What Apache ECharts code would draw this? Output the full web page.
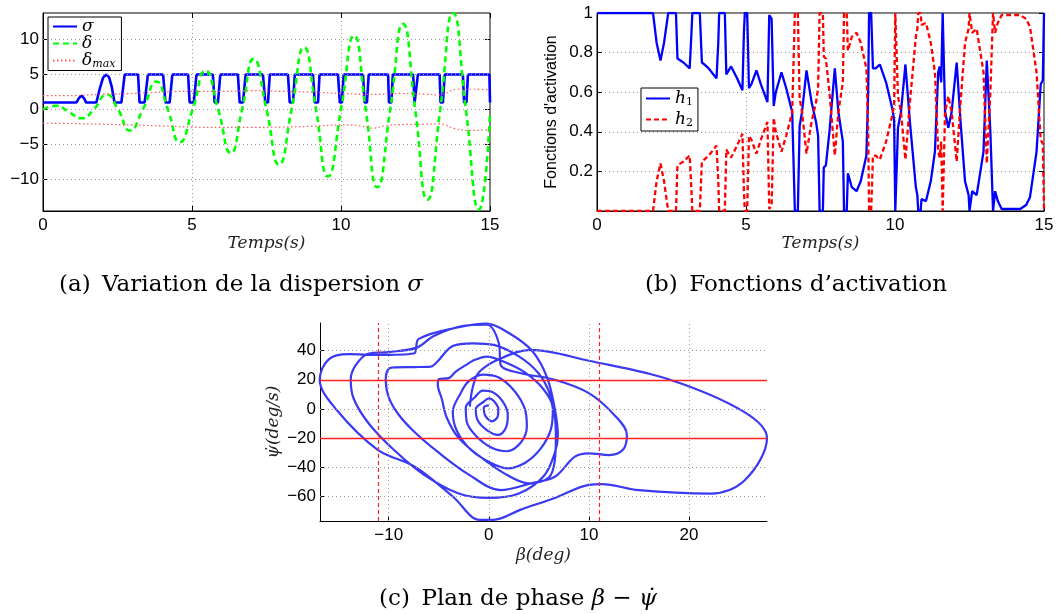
<!DOCTYPE html>
<html><head><meta charset="utf-8">
<script src="https://cdn.jsdelivr.net/npm/echarts@6/dist/echarts.min.js"></script>
<style>html,body{margin:0;padding:0;background:#fff}#c{width:1062px;height:614px}</style>
</head><body><div id="c"></div>
<script>
// ---------- (a) Variation de la dispersion ----------
const timeTicks = [0, 5, 10, 15];
const aYTicks = [-10, -5, 0, 5, 10];
const sigma = [[0,1],[1.12,1],[1.2,1.6],[1.29,2],[1.38,1.6],[1.45,1],[1.79,1],[1.92,3.2],[2.02,4.6],[2.13,5],[2.22,4.6],[2.31,3.2],[2.40,1],[2.63,1],[2.74,5],[3.19,5],[3.24,1],[3.41,1],[3.52,5],[4.03,5],[4.11,1],[4.25,1],[4.34,5],[4.87,5],[4.92,1],[5.06,1],[5.15,5],[5.70,5],[5.76,1],[5.87,1],[5.95,5],[6.54,5],[6.60,1],[6.71,1],[6.80,5],[7.38,5],[7.46,1],[7.55,1],[7.61,5],[8.22,5],[8.28,1],[8.39,1],[8.45,5],[9.06,5],[9.12,1],[9.23,1],[9.28,5],[9.90,5],[9.96,1],[10.03,1],[10.09,5],[10.74,5],[10.79,1],[10.87,1],[10.93,5],[11.58,5],[11.61,1],[11.69,1],[11.74,5],[12.42,5],[12.47,1],[12.53,1],[12.58,5],[13.31,5],[13.34,1],[13.42,1],[13.48,5],[14.09,5],[14.13,1],[14.21,1],[14.26,5],[14.98,5],[15,1]];
const delta = [[0,0],[0.45,0.55],[0.85,-0.3],[1.3,-1.25],[1.7,0],[2.13,2.15],[2.52,0],[2.91,-3.0],[3.35,0],[3.8,4.0],[4.19,0],[4.59,-4.67],[5.02,0],[5.45,5.57],[5.88,0],[6.3,-6.2],[6.68,0],[7.07,7.24],[7.5,0],[7.92,-7.86],[8.34,0],[8.76,8.9],[9.16,0],[9.56,-9.57],[10.0,0],[10.44,10.57],[10.83,0],[11.22,-11.1],[11.65,0],[12.08,12.24],[12.49,0],[12.9,-12.9],[13.33,0],[13.76,13.8],[14.19,0],[14.63,-14.3],[15,-0.5]];
const deltaMaxUp = [[0,2.0],[1,2.0],[2,2.2],[3,2.3],[4,2.5],[5,2.6],[6,2.6],[7,2.7],[8,2.6],[9,2.5],[10,2.3],[11,2.15],[12,2.3],[12.8,2.2],[13.3,2.1],[13.9,2.9],[14.5,2.9],[15,2.8]];
const deltaMaxLow = [[0,-1.95],[1,-2.0],[2,-2.1],[3,-2.2],[4,-2.35],[5,-2.5],[6,-2.55],[7,-2.55],[8,-2.5],[9,-2.4],[10,-2.2],[10.6,-2.3],[11.1,-2.65],[11.5,-2.3],[12,-2.15],[12.8,-2.1],[13.3,-2.05],[13.8,-2.7],[14.3,-3.0],[15,-2.85]];

// ---------- (b) Fonctions d'activation ----------
const hYTicks = [0, 0.2, 0.4, 0.6, 0.8, 1];
const hTime = [0,1.88,2.0,2.13,2.25,2.39,2.65,2.70,2.9,3.11,3.17,3.2,3.45,3.52,3.6,3.75,4.01,4.07,4.1,4.29,4.34,4.5,4.7,4.88,4.93,4.96,5.04,5.1,5.18,5.35,5.5,5.72,5.78,5.86,5.93,6.0,6.19,6.35,6.55,6.64,6.74,6.8,6.88,7.03,7.2,7.35,7.42,7.47,7.58,7.61,7.68,7.8,7.98,8.1,8.25,8.29,8.38,8.42,8.55,8.71,8.85,9.04,9.1,9.13,9.2,9.26,9.35,9.49,9.7,9.92,9.97,10.01,10.06,10.1,10.2,10.35,10.5,10.7,10.75,10.78,10.86,10.89,11.04,11.2,11.34,11.45,11.5,11.55,11.6,11.63,11.68,11.79,11.9,12.07,12.2,12.35,12.47,12.5,12.56,12.59,12.74,12.97,13.08,13.2,13.29,13.33,13.36,13.45,13.58,14.2,14.4,14.53,14.75,14.89,14.96,15];
const h1 = [1,1,0.85,0.76,0.85,1,1,0.77,0.75,0.72,0.9,1,1,0.75,0.74,0.72,0.67,0.85,1,1,0.69,0.73,0.67,0.61,0.9,1,1,0.62,0.64,0.71,0.64,0.55,0.99,0.97,0.53,0.6,0.7,0.62,0.5,0,0,0.43,0.5,0.71,0.55,0.45,0.38,0,0,0.22,0.23,0.4,0.72,0.5,0.35,0,0,0.19,0.12,0.1,0.15,0.28,0.6,1,1,0.72,0.72,0.74,0.65,0.51,0.46,0,0,0.42,0.5,0.74,0.45,0.12,0.08,0,0,0.06,0.05,0.15,0.3,0.7,0.73,0.65,1,1,0.5,0.42,0.5,0.75,0.45,0.15,0.08,0,0,0.1,0.08,0.3,0.76,0.4,0,0,0.1,0.05,0.01,0.01,0.03,0.07,0.3,0.64,0.66,1];
const h2 = [0,0,0.15,0.24,0.15,0,0,0.23,0.25,0.28,0.1,0,0,0.25,0.26,0.28,0.33,0.15,0,0,0.31,0.27,0.33,0.39,0.1,0,0,0.38,0.36,0.29,0.36,0.45,0.01,0.03,0.47,0.4,0.3,0.38,0.5,1,1,0.57,0.5,0.29,0.45,0.55,0.62,1,1,0.78,0.77,0.6,0.28,0.5,0.65,1,1,0.81,0.88,0.9,0.85,0.72,0.4,0,0,0.28,0.28,0.26,0.35,0.49,0.54,1,1,0.58,0.5,0.26,0.55,0.88,0.92,1,1,0.94,0.95,0.85,0.7,0.3,0.27,0.35,0,0,0.5,0.58,0.5,0.25,0.55,0.85,0.92,1,1,0.9,0.92,0.7,0.24,0.6,1,1,0.9,0.95,0.99,0.99,0.97,0.93,0.7,0.36,0.34,0];

// ---------- (c) Plan de phase ----------
const betaTicks = [-10, 0, 10, 20];
const psiTicks = [-60, -40, -20, 0, 20, 40];
const psiBounds = [-20, 20];
const betaBounds = [-11, 11];
const phase = [[0.0,2.5],[-0.5,1],[-0.4,-4],[0.3,-8.5],[0.9,-5],[0.95,0],[0.5,5.5],[0.0,7.3],[-0.5,5],
[-1.3,0],[-1.1,-8],[-0.2,-14.5],[0.9,-17.8],[1.7,-13],[1.9,-4],[1.4,5],[0.4,11.5],[-0.6,12.5],[-1.4,8],
[-2.3,1],[-2.2,-9],[-1.2,-19],[0.4,-27],[1.8,-29],[3.2,-23],[3.8,-12],[3.6,0],[2.6,12],[1.0,21.5],[-0.6,23.5],[-2.0,19],[-2.8,11],
[-3.6,-2],[-3.2,-15],[-1.8,-28],[0.2,-37],[1.8,-40.7],[3.6,-37],[5.2,-27],[6.2,-14],[6.4,0],[5.4,14],[3.6,25],[1.8,31.5],[-0.2,35.9],[-1.6,33],[-2.3,30],[-3.3,25.6],[-4.0,21.1],[-5.0,20.4],[-5.1,16.5],
[-4.7,7],[-4.2,-6],[-3.0,-20],[-1.0,-32],[1.5,-44],[4.0,-51],[6.0,-47],[6.6,-35],[6.7,-20],[6.6,-5],[6.0,12],[4.9,25],[3.0,36],[0.5,43.9],[-1.6,45],[-3.6,43.2],[-5.2,32],[-5.8,29],[-7.5,28.7],[-9.3,28.5],[-10,27.5],[-10.3,20],
[-10,8],[-9,-4],[-7.4,-16],[-5,-30],[-2,-45],[1.2,-55.6],[4.2,-51],[6.6,-46.5],[8.6,-32.7],[10,-30.4],[12,-31.6],[13.4,-28],[13.8,-17.8],[12.7,-5.3],[10,10.8],[6.6,20],[3.2,24.5],[1.2,30],[1.0,45],[-0.2,57.7],[-2.5,57],[-5.5,50],[-7.2,42],[-10,39],[-12,38],[-13.3,30],[-13.8,20],
[-13.5,7],[-12,-10],[-9.5,-28],[-6.5,-45],[-3,-58],[0,-61],[3,-58],[5.5,-46],[6.6,-30],[6.9,-18],[6.6,0],[5.8,22],[4.3,40],[2,52],[-0.2,58.5],[-3,56],[-7,48],[-7.5,38],[-11,37],[-14,37.5],[-16,34],[-16.9,20],
[-15.2,-0.7],[-11.1,-28],[-7.4,-39.6],[-3.6,-60],[-0.9,-76],[0.44,-76],[3.2,-69],[6.6,-61],[10,-52],[11.3,-51.5],[15,-55.7],[22.2,-58],[25.6,-48.7],[27.8,-20],[25.5,-2],[18.1,20],[10,33],[4.2,40.5],[1,34],[-1.0,25],[-1.6,15],[-1.9,1.6]];

const MINUS = '\u2212';
const fmt = v => String(v).replace('-', MINUS);
const tickFont = {fontFamily: 'Liberation Sans', fontSize: 17, color: '#000'};
const gridDot = {color: '#9a9a9a', width: 1, type: [1, 3]};
const serif = 'DejaVu Serif';
const nameFont = {fontFamily: serif, fontStyle: 'italic', fontSize: 17, color: '#222'};
const tickIn = {inside: true, length: 5, lineStyle: {color: '#000'}};

function gridLines(xs, ys, xi, yi) {
  const d = [];
  xs.forEach(v => d.push({xAxis: v}));
  ys.forEach(v => d.push({yAxis: v}));
  return {type: 'line', xAxisIndex: xi, yAxisIndex: yi, data: [], z: 1, silent: true,
    markLine: {silent: true, symbol: ['none', 'none'], label: {show: false}, lineStyle: gridDot, animation: false, data: d}};
}
function axisCommon(extra) {
  return Object.assign({
    axisLine: {onZero: false, lineStyle: {color: '#000', width: 1}},
    axisTick: tickIn
  }, extra);
}
function mirror(extra) {
  return Object.assign({type: 'value', axisLine: {show: false, onZero: false}, axisTick: tickIn,
    axisLabel: {show: false}, splitLine: {show: false}}, extra);
}

const chart = echarts.init(document.getElementById('c'), null, {renderer: 'canvas'});
const option = {
  animation: false,
  backgroundColor: '#fff',
  grid: [
    {left: 43, top: 13, width: 447, height: 198, show: true, borderColor: '#000', borderWidth: 1, containLabel: false},
    {left: 597, top: 13, width: 447, height: 198, show: true, borderColor: '#000', borderWidth: 1, containLabel: false},
    {left: 320, top: 323, width: 447, height: 198, containLabel: false}
  ],
  xAxis: [
    axisCommon({gridIndex: 0, type: 'value', min: timeTicks[0], max: timeTicks[3], interval: 5,
      axisLabel: Object.assign({margin: 6, formatter: fmt}, tickFont), splitLine: {show: true, lineStyle: gridDot},
      name: 'Temps(s)', nameLocation: 'middle', nameGap: 22, nameTextStyle: nameFont}),
    axisCommon({gridIndex: 1, type: 'value', min: timeTicks[0], max: timeTicks[3], interval: 5,
      axisLabel: Object.assign({margin: 6, formatter: fmt}, tickFont), splitLine: {show: true, lineStyle: gridDot},
      name: 'Temps(s)', nameLocation: 'middle', nameGap: 22, nameTextStyle: nameFont}),
    axisCommon({gridIndex: 2, type: 'value', min: -16.87, max: 27.8,
      axisTick: Object.assign({customValues: betaTicks}, tickIn),
      axisLabel: Object.assign({margin: 6, formatter: fmt, customValues: betaTicks}, tickFont), splitLine: {show: false},
      name: 'β(deg)', nameLocation: 'middle', nameGap: 26, nameTextStyle: nameFont}),
    mirror({gridIndex: 0, position: 'top', min: timeTicks[0], max: timeTicks[3], interval: 5}),
    mirror({gridIndex: 1, position: 'top', min: timeTicks[0], max: timeTicks[3], interval: 5})
  ],
  yAxis: [
    axisCommon({gridIndex: 0, type: 'value', min: -14.5, max: 13.8,
      axisTick: Object.assign({customValues: aYTicks}, tickIn),
      axisLabel: Object.assign({margin: 4, formatter: fmt, customValues: aYTicks}, tickFont), splitLine: {show: false}}),
    axisCommon({gridIndex: 1, type: 'value', min: hYTicks[0], max: hYTicks[5], interval: 0.2,
      axisLabel: Object.assign({margin: 4, showMinLabel: false, formatter: v => (v === 0 ? '' : String(+v.toFixed(1)))}, tickFont),
      splitLine: {show: true, lineStyle: gridDot},
      name: "Fonctions d'activation", nameLocation: 'middle', nameGap: 37,
      nameTextStyle: {fontFamily: 'Liberation Sans', fontSize: 16, color: '#000'}}),
    axisCommon({gridIndex: 2, type: 'value', min: -76.8, max: 58.9,
      axisTick: Object.assign({customValues: psiTicks}, tickIn),
      axisLabel: Object.assign({margin: 4, formatter: fmt, customValues: psiTicks}, tickFont), splitLine: {show: false},
      name: 'ψ\u0307(deg/s)', nameLocation: 'middle', nameGap: 38, nameTextStyle: nameFont}),
    mirror({gridIndex: 0, position: 'right', min: -14.5, max: 13.8, axisTick: Object.assign({customValues: aYTicks}, tickIn)}),
    mirror({gridIndex: 1, position: 'right', min: hYTicks[0], max: hYTicks[5], interval: 0.2})
  ],
  legend: [
    {data: ['σ', 'δ', 'δmax'], orient: 'vertical', left: 48, top: 17, itemWidth: 24, itemHeight: 11, itemGap: 0,
      padding: [1, 6, 1, 4], borderColor: '#000', borderWidth: 1, backgroundColor: '#fff', selectedMode: false,
      itemStyle: {opacity: 0},
      formatter: n => (n === 'δmax' ? '{m|δ}{s|max}' : '{m|' + n + '}'),
      textStyle: {rich: {m: {fontFamily: serif, fontStyle: 'italic', fontSize: 17, lineHeight: 14, color: '#000'},
                         s: {fontFamily: serif, fontStyle: 'italic', fontSize: 11, lineHeight: 18, verticalAlign: 'bottom', color: '#000'}}}},
    {data: ['h1', 'h2'], orient: 'vertical', left: 641, top: 88, itemWidth: 24, itemHeight: 12, itemGap: 3,
      padding: [2, 5, 2, 4], borderColor: '#000', borderWidth: 1, backgroundColor: '#fff', selectedMode: false,
      itemStyle: {opacity: 0},
      formatter: n => '{m|h}{s|' + n.slice(1) + '}',
      textStyle: {rich: {m: {fontFamily: serif, fontStyle: 'italic', fontSize: 17, lineHeight: 15, color: '#000'},
                         s: {fontFamily: serif, fontSize: 11, lineHeight: 19, verticalAlign: 'bottom', color: '#000'}}}}
  ],
  series: [
    gridLines([], aYTicks, 0, 0),
    {name: 'σ', type: 'line', xAxisIndex: 0, yAxisIndex: 0, data: sigma, symbol: 'none', z: 3,
      lineStyle: {color: '#0000ff', width: 2.6}, itemStyle: {color: '#0000ff'}},
    {name: 'δ', type: 'line', xAxisIndex: 0, yAxisIndex: 0, data: delta, symbol: 'none', smooth: 0.55, z: 3,
      lineStyle: {color: '#00ff00', width: 2.6, type: [6, 4]}, itemStyle: {color: '#00ff00'}},
    {name: 'δmax', type: 'line', xAxisIndex: 0, yAxisIndex: 0, data: deltaMaxUp, symbol: 'none', smooth: 0.4, z: 3,
      lineStyle: {color: '#ff5555', width: 1.2, type: [1.5, 2.5]}, itemStyle: {color: '#ff5555'}},
    {name: 'δmax', type: 'line', xAxisIndex: 0, yAxisIndex: 0, data: deltaMaxLow, symbol: 'none', smooth: 0.4, z: 3,
      lineStyle: {color: '#ff5555', width: 1.2, type: [1.5, 2.5]}, itemStyle: {color: '#ff5555'}},
    {name: 'h1', type: 'line', xAxisIndex: 1, yAxisIndex: 1, data: hTime.map((t, i) => [t, h1[i]]), symbol: 'none', z: 3,
      lineStyle: {color: '#0000ff', width: 2.3}, itemStyle: {color: '#0000ff'}},
    {name: 'h2', type: 'line', xAxisIndex: 1, yAxisIndex: 1, data: hTime.map((t, i) => [t, h2[i]]), symbol: 'none', z: 3,
      lineStyle: {color: '#ff0000', width: 2.3, type: [5, 3]}, itemStyle: {color: '#ff0000'}},
    gridLines(betaTicks, psiTicks, 2, 2),
    {name: 'phase', type: 'line', xAxisIndex: 2, yAxisIndex: 2, data: phase, symbol: 'none', smooth: 0.35, z: 3,
      lineStyle: {color: '#3a3af2', width: 2.2}},
    {type: 'line', xAxisIndex: 2, yAxisIndex: 2, data: [], z: 4, silent: true,
      markLine: {silent: true, symbol: ['none', 'none'], label: {show: false}, animation: false,
        data: psiBounds.map(v => ({yAxis: v, lineStyle: {color: '#ff2020', width: 1.4, type: 'solid'}}))
          .concat(betaBounds.map(v => ({xAxis: v, lineStyle: {color: '#ff2020', width: 1.2, type: [4, 3]}})))}}
  ],
  graphic: [
    {type: 'text', x: 241, y: 285, style: {text: '(a)\u2002Variation de la dispersion {i|σ}', align: 'center', verticalAlign: 'middle',
      fontFamily: serif, fontSize: 23, fill: '#000',
      rich: {i: {fontFamily: serif, fontStyle: 'italic', fontSize: 23, fill: '#000'}}}},
    {type: 'text', x: 796, y: 285, style: {text: '(b)\u2002Fonctions d\u2019activation', align: 'center', verticalAlign: 'middle',
      fontFamily: serif, fontSize: 23, fill: '#000'}},
    {type: 'text', x: 518, y: 599, style: {text: '(c)\u2002Plan de phase {i|β} \u2212 {i|ψ\u0307}', align: 'center', verticalAlign: 'middle',
      fontFamily: serif, fontSize: 23, fill: '#000',
      rich: {i: {fontFamily: serif, fontStyle: 'italic', fontSize: 23, fill: '#000'}}}}
  ]
};
chart.setOption(option);
</script>
</body></html>
